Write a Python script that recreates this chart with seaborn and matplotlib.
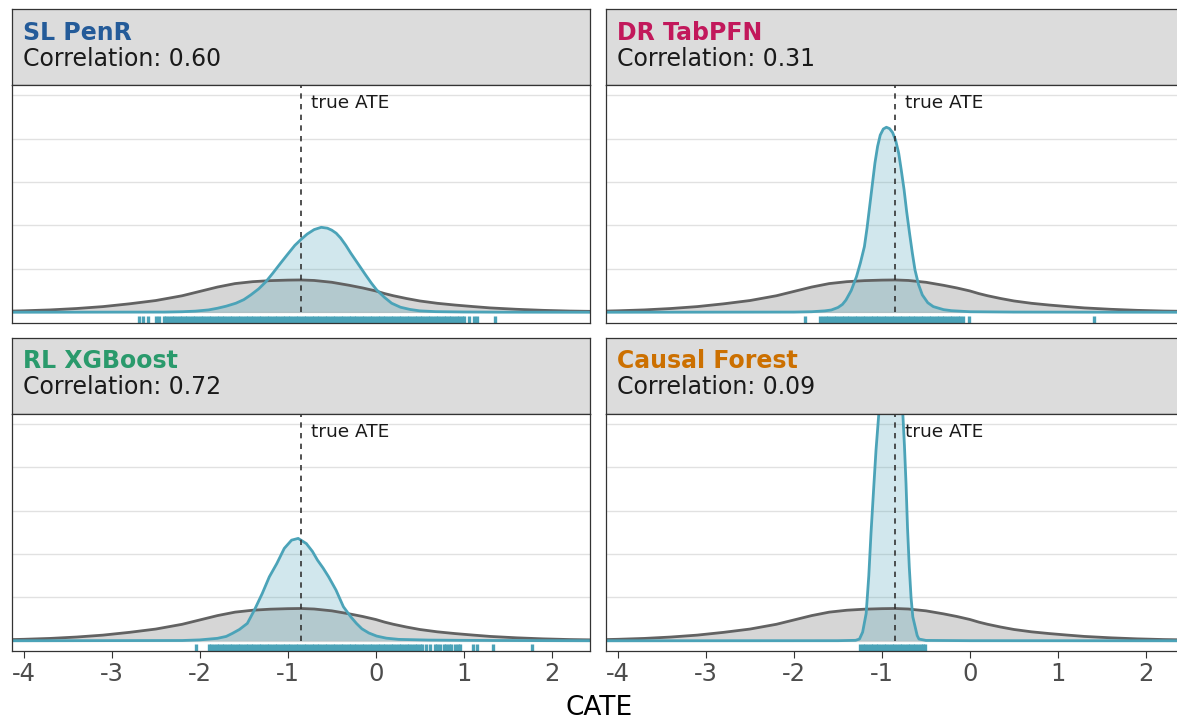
import matplotlib
matplotlib.use("Agg")
import matplotlib.pyplot as plt
import seaborn as sns

# densidade do CATE verdadeiro (curva cinza, igual nos quatro paineis)
cate_x = [-4.3, -4.0, -3.7, -3.4, -3.1, -2.8, -2.5, -2.2, -2.0, -1.8, -1.6, -1.4,
          -1.2, -1.0, -0.85, -0.7, -0.5, -0.3, -0.15, 0.0, 0.1, 0.2, 0.35, 0.5,
          0.7, 0.9, 1.1, 1.3, 1.6, 1.9, 2.2, 2.6]
cate_dens = [0.01, 0.017, 0.027, 0.043, 0.065, 0.097, 0.135, 0.19, 0.24, 0.29,
             0.33, 0.352, 0.364, 0.37, 0.372, 0.366, 0.345, 0.31, 0.28, 0.245,
             0.215, 0.19, 0.158, 0.13, 0.103, 0.083, 0.066, 0.05, 0.034, 0.022,
             0.014, 0.008]

# densidades estimadas (curvas azuis)
sl_x = [-4.3, -2.4, -2.2, -2.05, -1.9, -1.8, -1.7, -1.59, -1.5, -1.42, -1.33, -1.25,
        -1.17, -1.083, -1.0, -0.92, -0.848, -0.78, -0.7, -0.62, -0.55, -0.5, -0.45,
        -0.4, -0.34, -0.284, -0.2, -0.116, -0.05, 0.01, 0.1, 0.18, 0.28, 0.39, 0.5,
        0.68, 1.0, 1.4, 2.6]
sl_dens = [0.0, 0.002, 0.006, 0.013, 0.027, 0.046, 0.07, 0.104, 0.145, 0.2, 0.27,
           0.35, 0.45, 0.564, 0.67, 0.77, 0.84, 0.9, 0.952, 0.978, 0.968, 0.945,
           0.91, 0.855, 0.77, 0.68, 0.555, 0.43, 0.335, 0.257, 0.17, 0.104, 0.058,
           0.032, 0.016, 0.007, 0.003, 0.001, 0.0]

dr_x = [-4.3, -2.0, -1.8, -1.65, -1.576, -1.5, -1.45, -1.41, -1.35, -1.29, -1.245,
        -1.2, -1.17, -1.14, -1.11, -1.08, -1.05, -1.02, -0.985, -0.95, -0.915, -0.88,
        -0.845, -0.81, -0.78, -0.749, -0.72, -0.687, -0.655, -0.625, -0.585, -0.542,
        -0.48, -0.417, -0.3, -0.21, 0.0, 0.5, 1.4, 2.6]
dr_dens = [0.0, 0.002, 0.006, 0.016, 0.026, 0.055, 0.09, 0.14, 0.25, 0.41, 0.57,
           0.756, 0.97, 1.22, 1.47, 1.72, 1.91, 2.04, 2.11, 2.13, 2.115, 2.07, 1.98,
           1.83, 1.63, 1.41, 1.16, 0.91, 0.68, 0.487, 0.32, 0.2, 0.11, 0.065, 0.03,
           0.018, 0.006, 0.002, 0.001, 0.0]

rl_x = [-4.3, -2.2, -2.0, -1.8, -1.7, -1.63, -1.55, -1.46, -1.38, -1.29, -1.21,
        -1.125, -1.04, -0.957, -0.882, -0.789, -0.72, -0.663, -0.6, -0.536, -0.452,
        -0.368, -0.284, -0.22, -0.158, -0.08, 0.01, 0.12, 0.26, 0.6, 1.0, 1.4, 1.8,
        2.6]
rl_dens = [0.0, 0.003, 0.01, 0.028, 0.05, 0.085, 0.13, 0.2, 0.353, 0.546, 0.737,
           0.89, 1.065, 1.16, 1.18, 1.12, 1.03, 0.93, 0.84, 0.737, 0.584, 0.392,
           0.276, 0.2, 0.138, 0.09, 0.054, 0.03, 0.016, 0.008, 0.005, 0.003, 0.002,
           0.0]

cf_x = [-4.3, -1.5, -1.3, -1.256, -1.22, -1.18, -1.15, -1.125, -1.095, -1.068, -1.03,
        -0.98, -0.92, -0.86, -0.8, -0.765, -0.745, -0.727, -0.71, -0.69, -0.67,
        -0.65, -0.6, -0.58, -0.5, 0.0, 2.6]
cf_dens = [0.0, 0.001, 0.005, 0.02, 0.1, 0.315, 0.75, 1.24, 1.75, 2.2, 2.7, 3.0,
           3.15, 3.15, 2.95, 2.65, 2.25, 1.81, 1.3, 0.85, 0.5, 0.276, 0.06, 0.02,
           0.004, 0.001, 0.0]

# marcas do rug (faixas densas lidas como valores proximos)
rug_sl = [-2.69, -2.64, -2.59, -2.50, -2.46,
          -2.41, -2.38, -2.35, -2.32, -2.29, -2.26, -2.23, -2.20, -2.17, -2.14,
          -2.11, -2.08, -2.05, -2.02, -1.99, -1.96, -1.93, -1.90, -1.87, -1.84,
          -1.81, -1.78, -1.75, -1.72, -1.69, -1.66, -1.63, -1.60, -1.57, -1.54,
          -1.51, -1.48, -1.45, -1.42, -1.39, -1.36, -1.33, -1.30, -1.27, -1.24,
          -1.21, -1.18, -1.15, -1.12, -1.09, -1.06, -1.03, -1.00, -0.97, -0.94,
          -0.91, -0.88, -0.85, -0.82, -0.79, -0.76, -0.73, -0.70, -0.67, -0.64,
          -0.61, -0.58, -0.55, -0.52, -0.49, -0.46, -0.43, -0.40, -0.37, -0.34,
          -0.31, -0.28, -0.25, -0.22, -0.19, -0.16, -0.13, -0.10, -0.07, -0.04,
          -0.01, 0.02, 0.05, 0.08, 0.11, 0.14, 0.17, 0.20, 0.23, 0.26,
          0.29, 0.32, 0.35, 0.38, 0.41, 0.44, 0.47, 0.50, 0.53, 0.56,
          0.59, 0.62, 0.65, 0.68, 0.71, 0.74, 0.77, 0.80, 0.83, 0.86,
          0.89, 0.92, 0.95, 0.98, 1.00,
          1.06, 1.12, 1.15, 1.35]
rug_dr = [-1.87,
          -1.70, -1.67, -1.64, -1.61, -1.58, -1.55, -1.52, -1.49, -1.46, -1.43,
          -1.40, -1.37, -1.34, -1.31, -1.28, -1.25, -1.22, -1.19, -1.16, -1.13,
          -1.10, -1.07, -1.04, -1.01, -0.98, -0.95, -0.92, -0.89, -0.86, -0.83,
          -0.80, -0.77, -0.74, -0.71, -0.68, -0.65, -0.62, -0.59, -0.56, -0.53,
          -0.50, -0.47, -0.44, -0.41, -0.38, -0.35, -0.32, -0.29, -0.26, -0.23,
          -0.20, -0.17, -0.14, -0.11, -0.08,
          -0.01, 1.41]
rug_rl = [-2.04,
          -1.90, -1.87, -1.84, -1.81, -1.78, -1.75, -1.72, -1.69, -1.66, -1.63,
          -1.60, -1.57, -1.54, -1.51, -1.48, -1.45, -1.42, -1.39, -1.36, -1.33,
          -1.30, -1.27, -1.24, -1.21, -1.18, -1.15, -1.12, -1.09, -1.06, -1.03,
          -1.00, -0.97, -0.94, -0.91, -0.88, -0.85, -0.82, -0.79, -0.76, -0.73,
          -0.70, -0.67, -0.64, -0.61, -0.58, -0.55, -0.52, -0.49, -0.46, -0.43,
          -0.40, -0.37, -0.34, -0.31, -0.28, -0.25, -0.22, -0.19, -0.16, -0.13,
          -0.10, -0.07, -0.04, -0.01, 0.02, 0.05, 0.08, 0.11, 0.14, 0.17,
          0.20, 0.23, 0.26, 0.29, 0.32, 0.35, 0.38, 0.41, 0.44, 0.47,
          0.50, 0.53, 0.57, 0.62, 0.67, 0.70, 0.73, 0.77, 0.80, 0.83,
          0.86, 0.90, 0.93, 0.96, 1.11, 1.15, 1.33, 1.78]
rug_cf = [-1.25, -1.22, -1.19, -1.16, -1.13, -1.10, -1.07, -1.04, -1.01, -0.98,
          -0.95, -0.92, -0.89, -0.86, -0.83, -0.80, -0.77, -0.74, -0.71, -0.68,
          -0.65, -0.62, -0.59, -0.56, -0.53, -0.51]

titulos = ["SL PenR", "DR TabPFN", "RL XGBoost", "Causal Forest"]
cores_titulo = ["#245B99", "#C2185B", "#2A9A6C", "#CC7000"]
correlacoes = ["0.60", "0.31", "0.72", "0.09"]
ate_verdadeiro = -0.85

AZUL = "#4BA3B8"
W, H = 1177, 719


def caixa(x0, y0, x1, y1):
    # pixels (origem no topo) -> coordenadas da figura
    return [x0 / W, 1 - y1 / H, (x1 - x0) / W, (y1 - y0) / H]


sns.set_theme(style="white")
plt.rcParams['font.family'] = ['DejaVu Sans']
fig = plt.figure(figsize=(W / 100, H / 100), dpi=100)

colunas = [(11.5, 590.5), (605.7, 1184.7)]
linhas = [(9, 84.7, 322.5), (337.5, 413.5, 651)]
curvas = [(sl_x, sl_dens, rug_sl), (dr_x, dr_dens, rug_dr),
          (rl_x, rl_dens, rug_rl), (cf_x, cf_dens, rug_cf)]

for i in range(4):
    lin, col = divmod(i, 2)
    x0, x1 = colunas[col]
    s0, p0, p1 = linhas[lin]
    x_est, y_est, rug = curvas[i]

    # faixa de titulo
    ax_s = fig.add_axes(caixa(x0, s0, x1, p0))
    ax_s.set_facecolor("#DCDCDC")
    ax_s.set_xticks([])
    ax_s.set_yticks([])
    for sp in ax_s.spines.values():
        sp.set_color("#333333")
        sp.set_linewidth(0.9)
    ax_s.text(0.019, 1 - 30.5 / (p0 - s0), titulos[i], transform=ax_s.transAxes,
              fontsize=17, fontweight='bold', color=cores_titulo[i], va='baseline')
    ax_s.text(0.019, 1 - 56.5 / (p0 - s0), f"Correlation: {correlacoes[i]}",
              transform=ax_s.transAxes, fontsize=17, color="#1A1A1A", va='baseline')

    # painel
    ax = fig.add_axes(caixa(x0, p0, x1, p1))
    ax.set_axisbelow(True)
    ax.fill_between(cate_x, cate_dens, color="#808080", alpha=0.32, lw=0)
    sns.lineplot(x=cate_x, y=cate_dens, color="#626262", lw=2.0, ax=ax)
    ax.fill_between(x_est, y_est, color=AZUL, alpha=0.25, lw=0)
    sns.lineplot(x=x_est, y=y_est, color=AZUL, lw=2.0, ax=ax)
    sns.rugplot(x=rug, height=0.028, color=AZUL, linewidth=2.4, alpha=1,
                expand_margins=False, ax=ax)
    ax.vlines(ate_verdadeiro, 0, 2.62, color="#333333", lw=1.2,
              linestyles=(0, (3.2, 3.2)))
    ax.text(ate_verdadeiro + 0.11, 2.41, "true ATE", fontsize=13.3,
            va='center', ha='left', color="#1A1A1A")

    ax.set_xlim(-4.14, 2.44)
    ax.set_ylim(-0.118, 2.62)
    ax.set_yticks([0, 0.5, 1.0, 1.5, 2.0, 2.5])
    ax.yaxis.grid(True, color="#E1E1E1", lw=1.0)
    ax.xaxis.grid(False)
    ax.tick_params(axis='y', left=False, labelleft=False)
    ax.set_xticks([-4, -3, -2, -1, 0, 1, 2])
    ax.set_xticklabels(["-4", "-3", "-2", "-1", "0", "1", "2"])
    if lin == 1:
        ax.tick_params(axis='x', bottom=True, length=5, width=0.8, color="#333333",
                       labelsize=17.5, labelcolor="#4D4D4D", pad=3)
    else:
        ax.tick_params(axis='x', bottom=False, labelbottom=False)
    ax.set_xlabel("")
    ax.set_ylabel("")
    for sp in ax.spines.values():
        sp.set_color("#333333")
        sp.set_linewidth(0.9)

fig.text(598.8 / W, 1 - 715 / H, "CATE", ha='center', va='baseline',
         fontsize=19, color="black")

fig.savefig("out.png", dpi=100)
plt.close(fig)
